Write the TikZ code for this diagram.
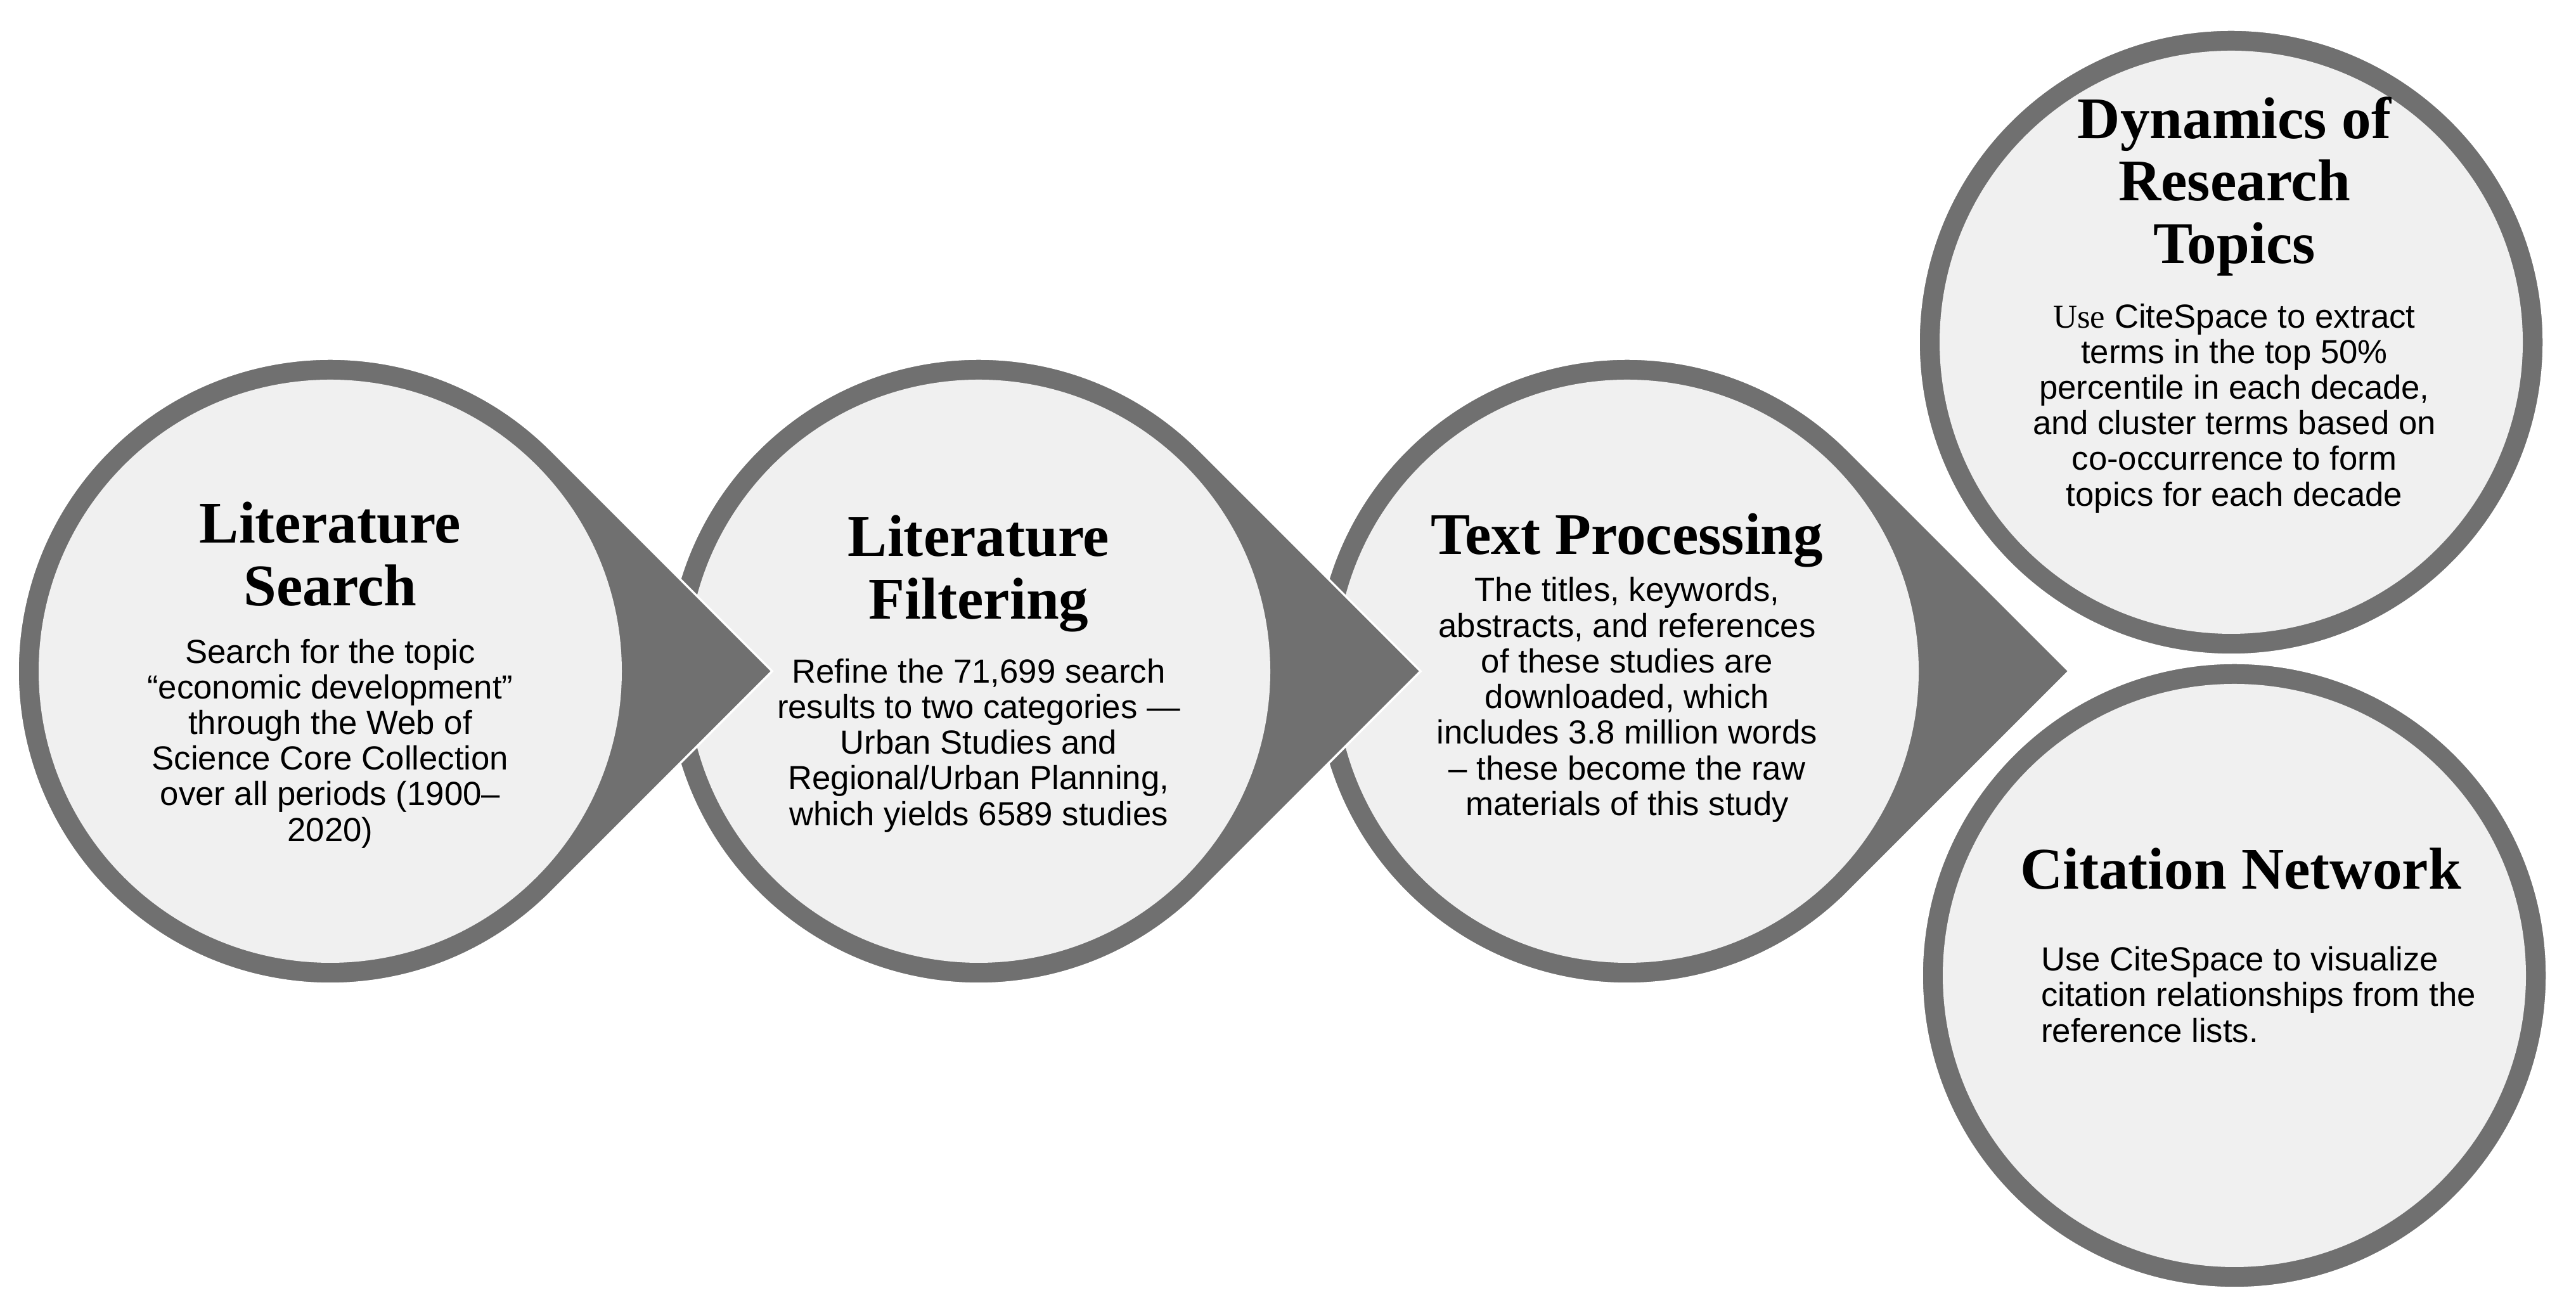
\documentclass[tikz,border=0pt]{standalone}
\usepackage{fontspec}
\setmainfont{Liberation Serif}
\setsansfont{Liberation Sans}
\usetikzlibrary{calc, positioning}
\definecolor{ringgray}{RGB}{112,112,112}
\definecolor{innergray}{RGB}{240,240,240}
\newcommand\rad{4.93}
\newcommand\rin{4.60}

\tikzset{
  headtext/.style={font=\bfseries\fontsize{26.5}{28}\selectfont, align=center, inner sep=0pt},
  bodytext/.style={font=\sffamily\fontsize{15}{16}\selectfont, align=center, inner sep=0pt},
  ring/.style={fill=ringgray, draw=white, line width=1pt},
}

\begin{document}
\begin{tikzpicture}

\useasboundingbox (0,0) rectangle (40.64,20.62);

\coordinate (c1) at (5.21,10.03);
\coordinate (c2) at (15.44,10.03);
\coordinate (c3) at (25.67,10.03);
\coordinate (c4) at (35.20,15.22);
\coordinate (c5) at (35.25,5.23);

% the two end circles
\foreach \cc in {c4,c5}{
  \path[ring] (\cc) circle (\rad);
  \fill[innergray] (\cc) circle (\rin);
}

% drops, back to front so each tip lies on the next one
\foreach \cc in {c3,c2,c1}{
  \path[ring] ($(\cc)+(45:\rad)$) -- ($(\cc)+(1.4142*\rad,0)$) -- ($(\cc)+(-45:\rad)$)
     arc[start angle=-45, end angle=-315, radius=\rad] -- cycle;
  \fill[innergray] (\cc) circle (\rin);
}

\node[headtext] (t1) at ($(c1)+(0,1.85)$) {Literature\\Search};
\node[bodytext] (b1) at ($(c1)+(0,-1.14)$) {Search for the topic\\“economic development”\\through the Web of\\Science Core Collection\\over all periods (1900–\\2020)};

\node[headtext] (t2) at ($(c2)+(0,1.54)$) {Literature\\Filtering};
\node[bodytext] (b2) at ($(c2)+(0,-1.17)$) {Refine the 71,699 search\\results to two categories —\\Urban Studies and\\Regional/Urban Planning,\\which yields 6589 studies};

\node[headtext] (t3) at ($(c3)+(0,2.07)$) {Text Processing};
\node[bodytext] (b3) at ($(c3)+(0,-0.45)$) {The titles, keywords,\\abstracts, and references\\of these studies are\\downloaded, which\\includes 3.8 million words\\– these become the raw\\materials of this study};

\node[headtext] (t4) at ($(c4)+(0.05,2.46)$) {Dynamics of\\Research\\Topics};
\node[bodytext] (b4) at ($(c4)+(0.05,-1.04)$) {{\rmfamily Use} CiteSpace to extract\\terms in the top 50\%\\percentile in each decade,\\and cluster terms based on\\co-occurrence to form\\topics for each decade};

\node[headtext] (t5) at ($(c5)+(0.1,1.68)$) {Citation Network};
\node[bodytext, align=left] (b5) at ($(c5)+(0.38,-0.30)$) {Use CiteSpace to visualize\\citation relationships from the\\reference lists.};

\end{tikzpicture}
\end{document}
